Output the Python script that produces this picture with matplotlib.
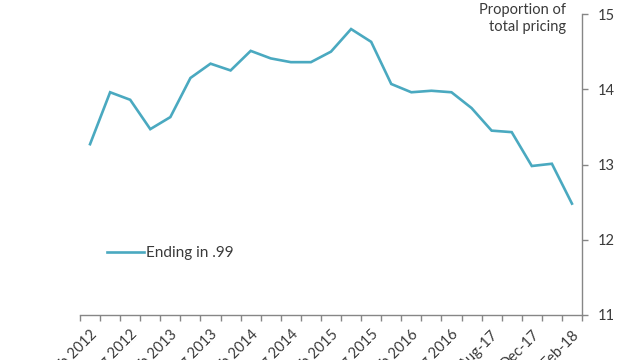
import matplotlib
matplotlib.use('Agg')
import matplotlib.pyplot as plt
from matplotlib.ticker import FixedLocator

# Data
categories = ['Feb 2012', 'May 2012', 'Aug 2012', 'Nov 2012', 'Feb 2013', 'May 2013',
              'Aug 2013', 'Nov 2013', 'Feb 2014', 'May 2014', 'Aug 2014', 'Nov 2014',
              'Feb 2015', 'May 2015', 'Aug 2015', 'Nov 2015', 'Feb 2016', 'May 2016',
              'Aug 2016', 'Feb-17', 'Aug-17', 'Oct-17', 'Dec-17', 'Jan-18', 'Feb-18']
ending_99 = [13.27, 13.96, 13.86, 13.47, 13.63, 14.15, 14.34, 14.25, 14.51, 14.41,
             14.36, 14.36, 14.50, 14.80, 14.63, 14.07, 13.96, 13.98, 13.96, 13.75,
             13.45, 13.43, 12.98, 13.01, 12.48]
y_ticks = [11, 12, 13, 14, 15]

plt.rcParams['font.family'] = ['Lato', 'DejaVu Sans']
text_col = '#3a3a3a'
axis_col = '#868686'
line_col = '#4aa9c0'

fig = plt.figure(figsize=(6.4, 3.6), dpi=100)
W, H = 640, 360
# axes box in pixels: x 80..582, y 14..315
ax = fig.add_axes([80 / W, 1 - 315 / H, (582 - 80) / W, (315 - 14) / H])

x = list(range(len(categories)))
ax.plot(x, ending_99, color=line_col, lw=1.9, label='Ending in .99',
        solid_joinstyle='miter')

ax.set_xlim(-0.5, len(categories) - 0.5)
ax.set_ylim(11, 15)

for s in ['top', 'left']:
    ax.spines[s].set_visible(False)
for s in ['bottom', 'right']:
    ax.spines[s].set_color(axis_col)
    ax.spines[s].set_linewidth(1.0)

# right-hand value axis
ax.yaxis.tick_right()
ax.set_yticks(y_ticks)
ax.tick_params(axis='y', direction='out', length=4, width=1, color=axis_col,
               labelsize=10.5, labelcolor=text_col, pad=7)

# category axis: tick marks between categories, labels on every other one
ax.xaxis.set_minor_locator(FixedLocator([i - 0.5 for i in range(len(categories) + 1)]))
ax.set_xticks(x[::2])
ax.set_xticklabels(categories[::2])
ax.tick_params(axis='x', which='major', length=0, labelsize=10.5,
               labelcolor=text_col, pad=9)
ax.tick_params(axis='x', which='minor', direction='out', length=4, width=1,
               color=axis_col)
for lab in ax.get_xticklabels():
    lab.set_rotation(45)
    lab.set_ha('right')
    lab.set_va('top')
    lab.set_rotation_mode('anchor')

leg = ax.legend(loc='center left', bbox_to_anchor=((107 - 80) / 502, (315 - 253) / 301),
                frameon=False, fontsize=11, handlelength=2.4, handletextpad=0.15,
                borderpad=0, borderaxespad=0)
for t in leg.get_texts():
    t.set_color(text_col)

fig.text(566 / W, 1 - 3 / H, 'Proportion of\ntotal pricing', ha='right', va='top',
         fontsize=10.5, color=text_col, linespacing=1.25)

fig.savefig('out.png', dpi=100)
